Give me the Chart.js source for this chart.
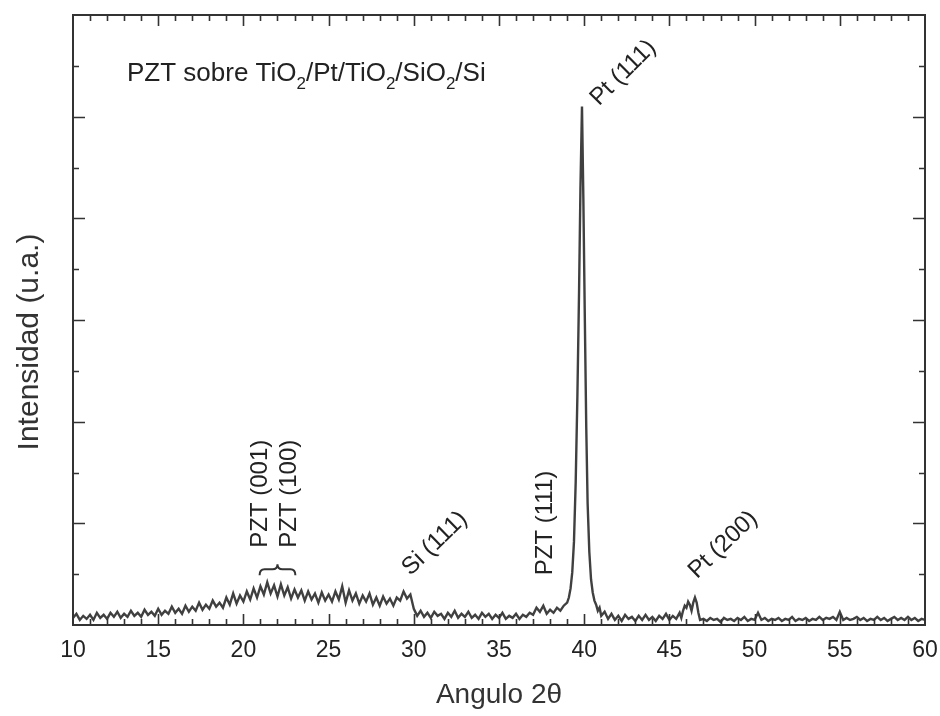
<!DOCTYPE html>
<html>
<head>
<meta charset="utf-8">
<script src="https://cdn.jsdelivr.net/npm/chart.js@4.4.0/dist/chart.umd.min.js"></script>
<style>
  html, body { margin: 0; padding: 0; background: #fff; }
  #wrap { width: 940px; height: 716px; }
</style>
</head>
<body>
<div id="wrap"><canvas id="xrd"></canvas></div>
<script>
/* ---------------------------------------------------------------------
                               DATA
--------------------------------------------------------------------- */
// 2theta (degrees) and intensity (a.u.)
const angle2Theta = [
  10.0, 10.2, 10.4, 10.6, 10.8, 11.0, 11.2, 11.4, 11.6, 11.8,
  12.0, 12.2, 12.4, 12.6, 12.8, 13.0, 13.2, 13.4, 13.6, 13.8,
  14.0, 14.2, 14.4, 14.6, 14.8, 15.0, 15.2, 15.4, 15.6, 15.8,
  16.0, 16.2, 16.4, 16.6, 16.8, 17.0, 17.2, 17.4, 17.6, 17.8,
  18.0, 18.2, 18.4, 18.6, 18.8, 19.0, 19.2, 19.4, 19.6, 19.8,
  20.0, 20.2, 20.4, 20.6, 20.8, 21.0, 21.2, 21.4, 21.6, 21.8,
  22.0, 22.2, 22.4, 22.6, 22.8, 23.0, 23.2, 23.4, 23.6, 23.8,
  24.0, 24.2, 24.4, 24.6, 24.8, 25.0, 25.2, 25.4, 25.6, 25.8,
  26.0, 26.2, 26.4, 26.6, 26.8, 27.0, 27.2, 27.4, 27.6, 27.8,
  28.0, 28.2, 28.4, 28.6, 28.8, 29.0, 29.2, 29.4, 29.6, 29.8,
  30.0, 30.2, 30.4, 30.6, 30.8, 31.0, 31.2, 31.4, 31.6, 31.8,
  32.0, 32.2, 32.4, 32.6, 32.8, 33.0, 33.2, 33.4, 33.6, 33.8,
  34.0, 34.2, 34.4, 34.6, 34.8, 35.0, 35.2, 35.4, 35.6, 35.8,
  36.0, 36.2, 36.4, 36.6, 36.8, 37.0, 37.2, 37.4, 37.6, 37.8,
  38.0, 38.2, 38.4, 38.6, 38.8,
  39.0, 39.1, 39.2, 39.3, 39.4, 39.5, 39.6, 39.7, 39.78, 39.87,
  39.95, 40.03, 40.12, 40.2, 40.3, 40.4, 40.5, 40.6, 40.7, 40.8,
  40.9, 41.0,
  41.2, 41.4, 41.6, 41.8, 42.0, 42.2, 42.4, 42.6, 42.8, 43.0,
  43.2, 43.4, 43.6, 43.8, 44.0, 44.2, 44.4, 44.6, 44.8, 45.0,
  45.2, 45.4, 45.6,
  45.7, 45.8, 45.9, 46.0, 46.1, 46.2, 46.3, 46.4, 46.5, 46.6,
  46.7, 46.8,
  47.0, 47.2, 47.4, 47.6, 47.8, 48.0, 48.2, 48.4, 48.6, 48.8,
  49.0, 49.2, 49.4, 49.6, 49.8, 50.0, 50.2, 50.4, 50.6, 50.8,
  51.0, 51.2, 51.4, 51.6, 51.8, 52.0, 52.2, 52.4, 52.6, 52.8,
  53.0, 53.2, 53.4, 53.6, 53.8, 54.0, 54.2, 54.4, 54.6, 54.8,
  55.0, 55.2, 55.4, 55.6, 55.8, 56.0, 56.2, 56.4, 56.6, 56.8,
  57.0, 57.2, 57.4, 57.6, 57.8, 58.0, 58.2, 58.4, 58.6, 58.8,
  59.0, 59.2, 59.4, 59.6, 59.8, 60.0
];

const intensity = [
  0.07, 0.11, 0.05, 0.09, 0.06, 0.10, 0.05, 0.12, 0.07, 0.10,
  0.06, 0.12, 0.08, 0.13, 0.07, 0.11, 0.08, 0.14, 0.09, 0.12,
  0.08, 0.15, 0.10, 0.13, 0.09, 0.16, 0.10, 0.14, 0.11, 0.18,
  0.12, 0.16, 0.11, 0.19, 0.13, 0.18, 0.14, 0.22, 0.15, 0.20,
  0.16, 0.24, 0.18, 0.22, 0.17, 0.27, 0.20, 0.31, 0.21, 0.29,
  0.23, 0.33, 0.25, 0.36, 0.27, 0.38, 0.30, 0.42, 0.31, 0.39,
  0.28, 0.40, 0.29, 0.37, 0.26, 0.35, 0.27, 0.34, 0.24, 0.33,
  0.25, 0.31, 0.22, 0.32, 0.24, 0.30, 0.23, 0.33, 0.25, 0.38,
  0.22, 0.34, 0.24, 0.31, 0.21, 0.29, 0.23, 0.31, 0.20, 0.27,
  0.19, 0.28, 0.21, 0.26, 0.19, 0.27, 0.24, 0.33, 0.26, 0.30,
  0.16, 0.09, 0.14, 0.08, 0.12, 0.07, 0.13, 0.09, 0.11, 0.06,
  0.12, 0.08, 0.14, 0.07, 0.11, 0.08, 0.13, 0.07, 0.10, 0.06,
  0.12, 0.08, 0.11, 0.06, 0.10, 0.07, 0.12, 0.06, 0.09, 0.07,
  0.11, 0.06, 0.10, 0.08, 0.12, 0.10, 0.17, 0.13, 0.19, 0.11,
  0.15, 0.12, 0.17, 0.14, 0.19,
  0.22, 0.27, 0.36, 0.52, 0.82, 1.40, 2.25, 3.30, 4.30, 5.10,
  4.20, 3.10, 1.95, 1.20, 0.72, 0.45, 0.32, 0.24, 0.20, 0.14,
  0.17, 0.09,
  0.13, 0.06, 0.11, 0.05, 0.09, 0.04, 0.10, 0.06, 0.08, 0.04,
  0.09, 0.05, 0.10, 0.05, 0.08, 0.04, 0.09, 0.06, 0.11, 0.05,
  0.09, 0.06, 0.12,
  0.07, 0.14, 0.19, 0.17, 0.23, 0.20, 0.14, 0.22, 0.27, 0.22,
  0.12, 0.05,
  0.06, 0.04, 0.07, 0.05, 0.06, 0.03, 0.07, 0.05, 0.06, 0.04,
  0.07, 0.05, 0.08, 0.04, 0.06, 0.05, 0.12, 0.05, 0.07, 0.04,
  0.06, 0.05, 0.07, 0.04, 0.06, 0.05, 0.08, 0.04, 0.06, 0.05,
  0.07, 0.04, 0.06, 0.05, 0.08, 0.05, 0.07, 0.06, 0.08, 0.05,
  0.13, 0.05, 0.07, 0.05, 0.06, 0.08, 0.05, 0.07, 0.04, 0.06,
  0.05, 0.08, 0.05, 0.07, 0.04, 0.06, 0.08, 0.05, 0.07, 0.05,
  0.08, 0.05, 0.07, 0.04, 0.06, 0.05
];

const xTickValues = [10, 15, 20, 25, 30, 35, 40, 45, 50, 55, 60];

const FONT = "'Liberation Sans', Arial, Helvetica, sans-serif";
const INK = '#222';

// peak labels: text, anchor (2theta, intensity), rotation in degrees
const peakNotes = [
  { text: 'PZT (001)', at: [20.97, 0.76], rot: -90, base: 'middle' },
  { text: 'PZT (100)', at: [22.68, 0.76], rot: -90, base: 'middle' },
  { text: 'Si (111)',  at: [29.80, 0.48], rot: -44, base: 'alphabetic' },
  { text: 'PZT (111)', at: [37.70, 0.49], rot: -90, base: 'middle' },
  { text: 'Pt (111)',  at: [40.87, 5.10], rot: -45, base: 'alphabetic' },
  { text: 'Pt (200)',  at: [46.62, 0.45], rot: -44, base: 'alphabetic' }
];

/* ---------------------------------------------------------------------
                         FRAME, TICKS, LABELS
--------------------------------------------------------------------- */
const decorations = {
    id: 'decorations',
    afterDatasetsDraw(chart) {
        const ctx = chart.ctx;
        const a = chart.chartArea;
        const xs = chart.scales.x;
        const ys = chart.scales.y;
        ctx.save();

        // frame
        ctx.strokeStyle = '#333';
        ctx.lineWidth = 2;
        ctx.strokeRect(a.left, a.top, a.right - a.left, a.bottom - a.top);

        // inward ticks, x every 1 deg (major 5), y every 0.5 (major 1)
        ctx.lineWidth = 1.6;
        ctx.beginPath();
        for (let v = 11; v < 60; v++) {
            const px = Math.round(xs.getPixelForValue(v)) + 0.5;
            const len = (v % 5 === 0) ? 11 : 6;
            ctx.moveTo(px, a.bottom); ctx.lineTo(px, a.bottom - len);
            ctx.moveTo(px, a.top);    ctx.lineTo(px, a.top + len);
        }
        for (let k = 1; k < 12; k++) {
            const py = Math.round(ys.getPixelForValue(k / 2)) + 0.5;
            const len = (k % 2 === 0) ? 12 : 6;
            ctx.moveTo(a.left, py);  ctx.lineTo(a.left + len, py);
            ctx.moveTo(a.right, py); ctx.lineTo(a.right - len, py);
        }
        ctx.stroke();

        // peak labels
        ctx.fillStyle = INK;
        ctx.font = '24px ' + FONT;
        ctx.textAlign = 'left';
        peakNotes.forEach(n => {
            ctx.save();
            ctx.translate(xs.getPixelForValue(n.at[0]), ys.getPixelForValue(n.at[1]));
            ctx.rotate(n.rot * Math.PI / 180);
            ctx.textBaseline = n.base;
            ctx.fillText(n.text, 0, 0);
            ctx.restore();
        });

        // curly brace over the PZT (001)/(100) hump
        const bx1 = xs.getPixelForValue(20.95), bx2 = xs.getPixelForValue(23.05);
        const bm = (bx1 + bx2) / 2;
        const yb = ys.getPixelForValue(0.49), ym = yb - 6, yt = yb - 11;
        ctx.lineWidth = 2;
        ctx.beginPath();
        ctx.moveTo(bx1, yb);
        ctx.quadraticCurveTo(bx1, ym, bx1 + 5, ym);
        ctx.lineTo(bm - 5, ym);
        ctx.quadraticCurveTo(bm, ym, bm, yt);
        ctx.quadraticCurveTo(bm, ym, bm + 5, ym);
        ctx.lineTo(bx2 - 5, ym);
        ctx.quadraticCurveTo(bx2, ym, bx2, yb);
        ctx.stroke();

        // sample title with subscripts
        const parts = [['PZT sobre TiO', 0], ['2', 1], ['/Pt/TiO', 0], ['2', 1], ['/SiO', 0], ['2', 1], ['/Si', 0]];
        let tx = a.left + 54;
        const ty = a.top + 66;
        ctx.textBaseline = 'alphabetic';
        parts.forEach(p => {
            ctx.font = (p[1] ? '17px ' : '26px ') + FONT;
            ctx.fillText(p[0], tx, ty + (p[1] ? 8 : 0));
            tx += ctx.measureText(p[0]).width;
        });

        // y axis title
        ctx.save();
        ctx.translate(30, 342);
        ctx.rotate(-Math.PI / 2);
        ctx.textAlign = 'center';
        ctx.textBaseline = 'middle';
        ctx.font = '30px ' + FONT;
        ctx.fillStyle = '#333';
        ctx.fillText('Intensidad (u.a.)', 0, 0);
        ctx.restore();

        ctx.restore();
    }
};

/* ---------------------------------------------------------------------
                                CHART
--------------------------------------------------------------------- */
const ctx_xrd = document.getElementById('xrd').getContext('2d');

const chartXrd = new Chart(ctx_xrd, {
    type: 'line',
    data: {
        datasets: [{
            label: 'PZT',
            data: angle2Theta.map((t, i) => ({ x: t, y: intensity[i] })),
            borderColor: '#404040',
            borderWidth: 2.4,
            pointRadius: 0,
            tension: 0,
            fill: false
        }]
    },
    options: {
        responsive: true,
        maintainAspectRatio: false,
        animation: false,
        devicePixelRatio: 1,
        layout: { padding: { top: 15, right: 15, left: 0, bottom: 0 } },
        plugins: {
            legend: { display: false },
            tooltip: { enabled: false }
        },
        scales: {
            x: {
                type: 'linear',
                min: 10,
                max: 60,
                afterBuildTicks: (scale) => { scale.ticks = xTickValues.map(v => ({ value: v })); },
                afterFit: (scale) => {
                    scale.height = 91;
                    scale.paddingLeft = 0;
                    scale.paddingRight = 0;
                },
                grid: { display: false, drawTicks: false },
                border: { display: false },
                ticks: {
                    autoSkip: false,
                    maxRotation: 0,
                    padding: 12,
                    color: INK,
                    font: { family: FONT, size: 23 }
                },
                title: {
                    display: true,
                    text: 'Angulo 2θ',
                    color: '#333',
                    font: { family: FONT, size: 28 },
                    padding: { top: 0, bottom: 4 }
                }
            },
            y: {
                min: 0,
                max: 6,
                afterFit: (scale) => { scale.width = 73; },
                grid: { display: false, drawTicks: false },
                border: { display: false },
                ticks: { display: false }
            }
        }
    },
    plugins: [decorations]
});
</script>
</body>
</html>
